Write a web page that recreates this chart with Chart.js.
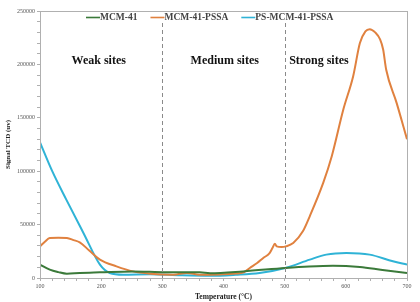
<!DOCTYPE html>
<html>
<head>
<meta charset="utf-8">
<script src="https://cdn.jsdelivr.net/npm/chart.js@4.4.1/dist/chart.umd.min.js"></script>
<style>
  html, body { margin: 0; padding: 0; background: #fff; }
  #wrap { width: 420px; height: 302px; position: relative; }
</style>
</head>
<body>
<div id="wrap"><canvas id="tcdChart"></canvas></div>
<script>
// Data
const seriesNames = ["MCM-41", "MCM-41-PSSA", "PS-MCM-41-PSSA"];

const mcmTemps = [100, 116, 130, 144, 165, 198, 252, 306, 361, 378, 432, 501, 540, 579, 623, 660, 700];
const mcmSignal = [12500, 7800, 5500, 4000, 4700, 5300, 6200, 5300, 5300, 4500, 6200, 9400, 10800, 11500, 10300, 7500, 4700];

const pssaTemps = [100, 108, 116, 130, 144, 155, 165, 180, 198, 225, 252, 280, 318, 340, 361, 378, 400, 420, 432, 443, 455, 465, 475, 480, 484, 487, 495, 502, 514, 530, 541, 563, 577, 596, 612, 623, 632, 639, 648, 656, 661, 666, 683, 700];
const pssaSignal = [29600, 34000, 37500, 37800, 37500, 35500, 33400, 26000, 17200, 10900, 6200, 4000, 3100, 4700, 3100, 3100, 3500, 4200, 5000, 9400, 14000, 18800, 23000, 28000, 32000, 29600, 29000, 29600, 32800, 44000, 57800, 89000, 114000, 158000, 189000, 220000, 231000, 233000, 230000, 223500, 214000, 195000, 164000, 130000];

const psTemps = [100, 120, 143, 171, 198, 214, 236, 280, 330, 378, 420, 459, 501, 541, 568, 601, 639, 677, 700];
const psSignal = [127000, 100000, 73400, 42200, 12500, 4700, 3100, 3500, 2500, 2000, 3000, 4700, 9400, 17200, 21900, 23400, 21900, 15600, 12500];

const seriesColors = ["#3b7a3a", "#e0813f", "#2fb3d6"];

const regionLines = [300, 500];
const regionLabels = ["Weak sites", "Medium sites", "Strong sites"];
const regionLabelX = [196, 402, 556];

function toPoints(xs, ys) {
    return xs.map((x, i) => ({ x: x, y: ys[i] }));
}

// dashed region separators, site labels, legend and the frame around the plot
const overlayPlugin = {
    id: "overlay",
    afterDatasetsDraw(chart) {
        const { ctx, chartArea, scales } = chart;
        ctx.save();
        ctx.strokeStyle = "#8a8a8a";
        ctx.lineWidth = 1;
        ctx.setLineDash([4, 3]);
        regionLines.forEach(t => {
            const px = Math.round(scales.x.getPixelForValue(t)) + 0.5;
            ctx.beginPath();
            ctx.moveTo(px, chartArea.top + 12);
            ctx.lineTo(px, chartArea.bottom);
            ctx.stroke();
        });
        ctx.setLineDash([]);
        ctx.strokeStyle = "#b0b0b0";
        ctx.strokeRect(chartArea.left + 0.5, chartArea.top + 0.5, chartArea.right - chartArea.left, chartArea.bottom - chartArea.top);

        ctx.fillStyle = "#111";
        ctx.font = "bold 12px 'Liberation Serif', serif";
        ctx.textAlign = "center";
        ctx.textBaseline = "middle";
        const labelY = scales.y.getPixelForValue(203000);
        regionLabels.forEach((txt, i) => {
            ctx.fillText(txt, scales.x.getPixelForValue(regionLabelX[i]), labelY);
        });

        // legend along the top edge of the plot
        ctx.font = "bold 9.5px 'Liberation Serif', serif";
        ctx.textAlign = "left";
        let lx = chartArea.left + 46;
        const ly = chartArea.top + 6.5;
        seriesNames.forEach((name, i) => {
            ctx.strokeStyle = seriesColors[i];
            ctx.lineWidth = 1.6;
            ctx.beginPath();
            ctx.moveTo(lx, ly);
            ctx.lineTo(lx + 14, ly);
            ctx.stroke();
            ctx.fillStyle = "#444";
            ctx.fillText(name, lx + 14, ly);
            lx += 14 + ctx.measureText(name).width + 13;
        });
        ctx.restore();
    }
};

function setupChart() {
    const ctx = document.getElementById("tcdChart").getContext("2d");
    const allTemps = [mcmTemps, pssaTemps, psTemps];
    const allSignal = [mcmSignal, pssaSignal, psSignal];

    new Chart(ctx, {
        type: "line",
        data: {
            datasets: seriesNames.map((name, i) => ({
                label: name,
                data: toPoints(allTemps[i], allSignal[i]),
                borderColor: seriesColors[i],
                backgroundColor: seriesColors[i],
                borderWidth: 2,
                pointRadius: 0,
                fill: false,
                cubicInterpolationMode: "monotone",
            })),
        },
        options: {
            responsive: true,
            maintainAspectRatio: false,
            animation: false,
            layout: { padding: { top: 11, right: 13, left: 0, bottom: 0 } },
            plugins: {
                tooltip: { enabled: false },
                legend: { display: false },
            },
            scales: {
                x: {
                    type: "linear",
                    min: 100,
                    max: 700,
                    afterFit: s => { s.height = 24; },
                    border: { color: "#b0b0b0" },
                    grid: { drawOnChartArea: false, tickLength: 3, color: "#b0b0b0" },
                    ticks: {
                        stepSize: 20,
                        autoSkip: false,
                        maxRotation: 0,
                        padding: 2,
                        color: "#555",
                        font: { family: "'Liberation Serif', serif", size: 6 },
                        callback: v => (v % 100 === 0 ? String(v) : ""),
                    },
                    title: {
                        display: true,
                        text: "Temperature (°C)",
                        color: "#222",
                        padding: 0,
                        font: { family: "'Liberation Serif', serif", size: 7.5, weight: "bold" },
                    },
                },
                y: {
                    min: 0,
                    max: 250000,
                    afterFit: s => { s.width = 40; },
                    border: { color: "#b0b0b0" },
                    grid: { drawOnChartArea: false, tickLength: 3, color: "#b0b0b0" },
                    ticks: {
                        stepSize: 10000,
                        autoSkip: false,
                        padding: 2,
                        color: "#555",
                        font: { family: "'Liberation Serif', serif", size: 6 },
                        callback: v => (v % 50000 === 0 ? String(v) : ""),
                    },
                    title: {
                        display: true,
                        text: "Signal TCD (uv)",
                        color: "#222",
                        padding: { top: 4, bottom: 0 },
                        font: { family: "'Liberation Serif', serif", size: 7, weight: "bold" },
                    },
                },
            },
        },
        plugins: [overlayPlugin],
    });
}

document.addEventListener("DOMContentLoaded", setupChart);
</script>
</body>
</html>
